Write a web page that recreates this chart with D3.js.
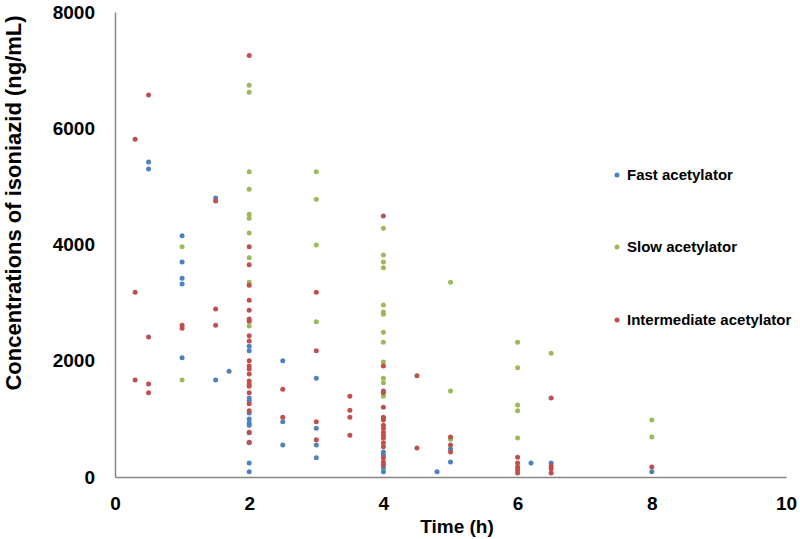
<!DOCTYPE html>
<html>
<head>
<meta charset="utf-8">
<script src="https://cdn.jsdelivr.net/npm/d3@7"></script>
<style>
  body { margin: 0; background: #fff; }
  svg { font-family: "Liberation Sans", Arial, sans-serif; font-weight: bold; }
</style>
</head>
<body>
<svg width="800" height="539"></svg>
<script>
// data: [time (h), concentration (ng/mL)]
const fastAcetylator = [
  [0.5, 5420], [0.5, 5300],
  [1, 4150], [1, 3700], [1, 3420], [1, 3320], [1, 2050],
  [1.5, 4800], [1.5, 1670], [1.7, 1820],
  [2, 2250], [2, 2170], [2, 1360], [2, 1310], [2, 1100], [2, 1000], [2, 930],
  [2, 890], [2, 760], [2, 590], [2, 240], [2, 90],
  [2.5, 2000], [2.5, 950], [2.5, 550],
  [3, 1700], [3, 840], [3, 550], [3, 330],
  [4, 430], [4, 380], [4, 160], [4, 90],
  [4.8, 90], [5, 480], [5, 260],
  [6.2, 240], [6.5, 240], [8, 90]
];
const slowAcetylator = [
  [1, 3960], [1, 1670],
  [2, 6740], [2, 6620], [2, 5250], [2, 4950], [2, 4520], [2, 4450], [2, 4200],
  [2, 3770], [2, 3350], [2, 2600],
  [3, 5250], [3, 4780], [3, 3990], [3, 2670],
  [4, 4280], [4, 3820], [4, 3700], [4, 3600], [4, 2960], [4, 2840], [4, 2800],
  [4, 2490], [4, 2320], [4, 1980], [4, 1700], [4, 1620], [4, 1390],
  [5, 3350], [5, 1480], [5, 650],
  [6, 2320], [6, 1880], [6, 1240], [6, 1140], [6, 670],
  [6.5, 2130], [8, 980], [8, 690]
];
const intermediateAcetylator = [
  [0.3, 5810], [0.3, 3180], [0.3, 1670],
  [0.5, 6570], [0.5, 2410], [0.5, 1600], [0.5, 1450],
  [1, 2610], [1, 2560],
  [1.5, 4750], [1.5, 2890], [1.5, 2610],
  [2, 7250], [2, 3960], [2, 3650], [2, 3300], [2, 3040], [2, 2870], [2, 2720],
  [2, 2680], [2, 2430], [2, 2340], [2, 2000], [2, 1910], [2, 1860], [2, 1770],
  [2, 1650], [2, 1600], [2, 1560], [2, 1450], [2, 1260], [2, 1140], [2, 770], [2, 600],
  [2.5, 1510], [2.5, 1030],
  [3, 3180], [3, 2170], [3, 950], [3, 640],
  [3.5, 1390], [3.5, 1150], [3.5, 1030], [3.5, 720],
  [4, 4490], [4, 1910], [4, 1480], [4, 1450], [4, 1200], [4, 1030], [4, 1010],
  [4, 980], [4, 890], [4, 840], [4, 770], [4, 720], [4, 670], [4, 590], [4, 520],
  [4, 330], [4, 260], [4, 210],
  [4.5, 1740], [4.5, 500],
  [5, 690], [5, 550], [5, 430],
  [6, 340], [6, 240], [6, 170], [6, 120], [6, 70],
  [6.5, 1360], [6.5, 190], [6.5, 140], [6.5, 70],
  [8, 170]
];

const seriesNames  = ["Fast acetylator", "Slow acetylator", "Intermediate acetylator"];
const seriesColors = ["#4F81BD", "#9BBB59", "#C0504D"];
const seriesData   = [fastAcetylator, slowAcetylator, intermediateAcetylator];
const xTicks = [0, 2, 4, 6, 8, 10];
const yTicks = [0, 2000, 4000, 6000, 8000];

const svg = d3.select("svg");

// scales (plot area in pixels)
const x = d3.scaleLinear().domain([0, 10]).range([115, 786]);
const y = d3.scaleLinear().domain([0, 8000]).range([477, 12]);

// axes
const xAxis = svg.append("g")
  .attr("transform", `translate(0,${y(0)})`)
  .call(d3.axisBottom(x).tickValues(xTicks).tickSize(0).tickPadding(20));
const yAxis = svg.append("g")
  .attr("transform", `translate(${x(0)},0)`)
  .call(d3.axisLeft(y).tickValues(yTicks).tickFormat(d3.format("d")).tickSize(0).tickPadding(20));

[xAxis, yAxis].forEach(a => {
  a.select(".domain").attr("stroke", "#868686").attr("stroke-width", 1.5);
  a.selectAll("text")
   .attr("fill", "#000")
   .style("font-size", "19px")
   .style("font-weight", "bold")
   .style("font-family", "'Liberation Sans', Arial, sans-serif");
});

// axis titles
svg.append("text")
  .attr("x", 457).attr("y", 533)
  .attr("text-anchor", "middle")
  .style("font-size", "19px")
  .text("Time (h)");

svg.append("text")
  .attr("transform", "translate(21,203) rotate(-90)")
  .attr("text-anchor", "middle")
  .style("font-size", "22px")
  .text("Concentrations of isoniazid (ng/mL)");

// points, drawn in legend order
seriesData.forEach((pts, i) => {
  svg.append("g")
    .selectAll("circle")
    .data(pts)
    .join("circle")
      .attr("cx", d => x(d[0]))
      .attr("cy", d => y(d[1]))
      .attr("r", 2.5)
      .attr("fill", seriesColors[i]);
});

// legend
const legend = svg.append("g");
const legendY = [175, 247, 320];
seriesNames.forEach((name, i) => {
  legend.append("circle")
    .attr("cx", 617).attr("cy", legendY[i])
    .attr("r", 2.5)
    .attr("fill", seriesColors[i]);
  legend.append("text")
    .attr("x", 627).attr("y", legendY[i] + 5)
    .style("font-size", "15px")
    .text(name);
});
</script>
</body>
</html>
